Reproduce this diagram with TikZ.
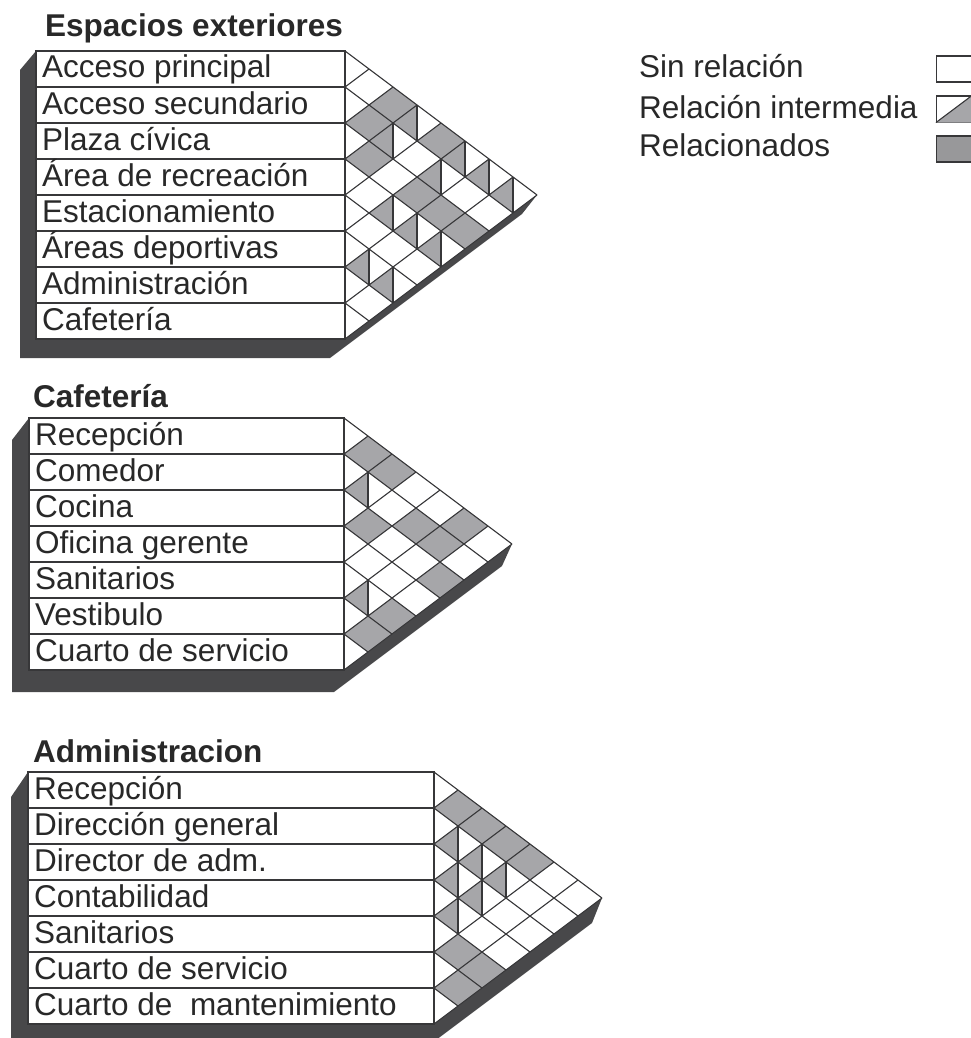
\documentclass[tikz,border=0pt]{standalone}
\usepackage{fontspec}
\setmainfont{Liberation Sans}
\usepackage{xcolor}
\usepackage{tikz}
\definecolor{linegray}{RGB}{55,55,57}
\definecolor{cellgray}{RGB}{166,166,169}
\definecolor{shadowgray}{RGB}{72,72,74}
\definecolor{textgray}{RGB}{40,40,40}
\definecolor{legendgray}{RGB}{152,152,154}

\begin{document}
\begin{tikzpicture}[
    x=1pt, y=-1pt,
    every node/.style={font=\fontsize{31.5}{36}\selectfont, text=textgray, inner sep=0pt},
    title/.style={anchor=base west, font=\fontsize{31.5}{36}\selectfont\bfseries},
    rowlabel/.style={anchor=base west},
    gridline/.style={draw=linegray, line width=1.1pt},
    shade/.style={fill=shadowgray},
    legbox/.style={draw=linegray, line width=1.1pt, fill=white, minimum width=35, minimum height=26},
  ]
  \useasboundingbox (0,0) rectangle (970,1038);

  % Espacios exteriores
  \begin{scope}[shift={(345,51)}]
    \fill[shade] (-309,0) -- (-325,19) -- (-325,307) -- (-15,307) -- (177,163) -- (192,144) -- cycle;
    \fill[white] (-309,0) rectangle (0,288);
    \fill[white] (0,0) -- (192,144) -- (0,288) -- cycle;
    \foreach \i/\j [evaluate=\i as \cx using 24*(\j-\i), evaluate=\i as \cy using 18*(\i+\j+1)]
      in {0/2,1/2,2/3,0/4,2/5,2/6,2/7}
      \fill[cellgray] (\cx-24,\cy) -- (\cx,\cy-18) -- (\cx+24,\cy) -- (\cx,\cy+18) -- cycle;
    \foreach \i/\j [evaluate=\i as \cx using 24*(\j-\i), evaluate=\i as \cy using 18*(\i+\j+1)]
      in {0/3,1/3,0/5,0/6,0/7,1/5,3/5,3/6,3/7,5/6,5/7} {
      \fill[cellgray] (\cx-24,\cy) -- (\cx,\cy-18) -- (\cx,\cy+18) -- cycle;
      \draw[gridline] (\cx,\cy-18) -- (\cx,\cy+18);
    }
    \foreach \k in {0,...,8}
      \draw[gridline] (24*\k,18*\k) -- (0,36*\k) -- (192-24*\k,144+18*\k);
    \draw[gridline] (-309,0) rectangle (0,288);
    \foreach \k in {1,...,7}
      \draw[gridline] (-309,36*\k) -- (0,36*\k);
    \node[title] (ext) at (-300,-14) {Espacios exteriores};
    \foreach \lab [count=\r] in {Acceso principal, Acceso secundario, Plaza cívica,
        Área de recreación, Estacionamiento, Áreas deportivas, Administración, Cafetería}
      \node[rowlabel] (ext\r) at (-303,36*\r-9) {\lab};
  \end{scope}

  % Cafeteria
  \begin{scope}[shift={(344,418)}]
    \fill[shade] (-315,0) -- (-332,22) -- (-332,274) -- (-10,274) -- (158,148) -- (168,126) -- cycle;
    \fill[white] (-315,0) rectangle (0,252);
    \fill[white] (0,0) -- (168,126) -- (0,252) -- cycle;
    \foreach \i/\j [evaluate=\i as \cx using 24*(\j-\i), evaluate=\i as \cy using 18*(\i+\j+1)]
      in {0/1,0/2,2/3,1/4,0/5,1/5,2/6,4/6,5/6}
      \fill[cellgray] (\cx-24,\cy) -- (\cx,\cy-18) -- (\cx+24,\cy) -- (\cx,\cy+18) -- cycle;
    \foreach \i/\j [evaluate=\i as \cx using 24*(\j-\i), evaluate=\i as \cy using 18*(\i+\j+1)]
      in {1/2,4/5} {
      \fill[cellgray] (\cx-24,\cy) -- (\cx,\cy-18) -- (\cx,\cy+18) -- cycle;
      \draw[gridline] (\cx,\cy-18) -- (\cx,\cy+18);
    }
    \foreach \k in {0,...,7}
      \draw[gridline] (24*\k,18*\k) -- (0,36*\k) -- (168-24*\k,126+18*\k);
    \draw[gridline] (-315,0) rectangle (0,252);
    \foreach \k in {1,...,6}
      \draw[gridline] (-315,36*\k) -- (0,36*\k);
    \node[title] (caf) at (-311,-11) {Cafetería};
    \foreach \lab [count=\r] in {Recepción, Comedor, Cocina, Oficina gerente, Sanitarios,
        Vestibulo, Cuarto de servicio}
      \node[rowlabel] (caf\r) at (-309,36*\r-9) {\lab};
  \end{scope}

  % Administracion
  \begin{scope}[shift={(434,772)}]
    \fill[shade] (-406,0) -- (-423,25) -- (-423,277) -- (-10,277) -- (158,151) -- (168,126) -- cycle;
    \fill[white] (-406,0) rectangle (0,252);
    \fill[white] (0,0) -- (168,126) -- (0,252) -- cycle;
    \foreach \i/\j [evaluate=\i as \cx using 24*(\j-\i), evaluate=\i as \cy using 18*(\i+\j+1)]
      in {0/1,0/2,0/3,0/4,4/5,4/6,5/6}
      \fill[cellgray] (\cx-24,\cy) -- (\cx,\cy-18) -- (\cx+24,\cy) -- (\cx,\cy+18) -- cycle;
    \foreach \i/\j [evaluate=\i as \cx using 24*(\j-\i), evaluate=\i as \cy using 18*(\i+\j+1)]
      in {1/2,1/3,1/4,2/3,2/4,3/4} {
      \fill[cellgray] (\cx-24,\cy) -- (\cx,\cy-18) -- (\cx,\cy+18) -- cycle;
      \draw[gridline] (\cx,\cy-18) -- (\cx,\cy+18);
    }
    \foreach \k in {0,...,7}
      \draw[gridline] (24*\k,18*\k) -- (0,36*\k) -- (168-24*\k,126+18*\k);
    \draw[gridline] (-406,0) rectangle (0,252);
    \foreach \k in {1,...,6}
      \draw[gridline] (-406,36*\k) -- (0,36*\k);
    \node[title] (adm) at (-401,-10) {Administracion};
    \foreach \lab [count=\r] in {Recepción, Dirección general, Director de adm., Contabilidad,
        Sanitarios, Cuarto de servicio, Cuarto de~~mantenimiento}
      \node[rowlabel] (adm\r) at (-400,36*\r-9) {\lab};
  \end{scope}

  % leyenda
  \node[rowlabel] (sinrel) at (639,78) {Sin relación};
  \node[rowlabel] (relint) at (639,118) {Relación intermedia};
  \node[rowlabel] (relac) at (639,157) {Relacionados};
  \node[legbox] (boxsin) at (954,69) {};
  \node[legbox] (boxint) at (954,109) {};
  \fill[cellgray] (boxint.south west) -- (boxint.north east) -- (boxint.south east) -- cycle;
  \draw[gridline] (boxint.south west) -- (boxint.north east);
  \node[legbox, fill=legendgray] (boxrel) at (954,149) {};
\end{tikzpicture}
\end{document}
